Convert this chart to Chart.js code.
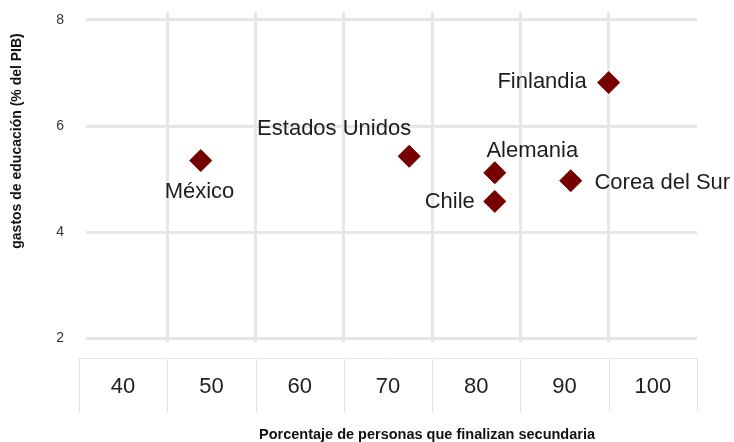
<!DOCTYPE html>
<html><head><meta charset="utf-8">
<script src="https://cdn.jsdelivr.net/npm/chart.js@4.4.1/dist/chart.umd.min.js"></script>
<style>html,body{margin:0;padding:0;background:#fff}</style>
</head><body>
<canvas id="c" width="734" height="442"></canvas>
<script>
const countries = ['Finlandia', 'Estados Unidos', 'México', 'Alemania', 'Chile', 'Corea del Sur'];
const secondaryCompletion = [95.0, 72.4, 48.8, 82.1, 82.1, 90.7];
const educationSpending = [6.82, 5.43, 5.35, 5.12, 4.58, 4.97];
const xTickLabels = [40, 50, 60, 70, 80, 90, 100];
const yTickLabels = [2, 4, 6, 8];
const xTitle = 'Porcentaje de personas que finalizan secundaria';
const yTitle = 'gastos de educación (% del PIB)';

// label placement relative to each point (style only)
const labelPlacement = {
  'Finlandia':      {dx: -22,  dy: 5.6,  align: 'right'},
  'Estados Unidos': {dx: -75,  dy: -21.7, align: 'center'},
  'México':         {dx: -1.3, dy: 37.6, align: 'center'},
  'Alemania':       {dx: 37.5, dy: -16,  align: 'center'},
  'Chile':          {dx: -20,  dy: 6.6,  align: 'right'},
  'Corea del Sur':  {dx: 23.7, dy: 8.6,  align: 'left'}
};

const GRID = '#e6e6ea';
const CELL = '#e4e4e4';
const FONT = '"Liberation Sans", Arial, sans-serif';

const cellsPlugin = {
  id: 'cells',
  beforeDraw(chart) {
    const x = chart.scales.x;
    const c = chart.ctx;
    const half = (xTickLabels[1] - xTickLabels[0]) / 2;
    const edges = xTickLabels.map(v => v - half).concat([xTickLabels[xTickLabels.length - 1] + half]);
    const top = 358.5, bottom = 412;
    c.save();
    c.strokeStyle = CELL;
    c.lineWidth = 1;
    c.beginPath();
    const l = Math.round(x.getPixelForValue(edges[0])) + 0.5;
    const r = Math.round(x.getPixelForValue(edges[edges.length - 1])) + 0.5;
    c.moveTo(l, top); c.lineTo(r, top);
    edges.forEach(e => {
      const px = Math.round(x.getPixelForValue(e)) + 0.5;
      c.moveTo(px, top); c.lineTo(px, bottom);
    });
    c.stroke();
    c.restore();
  }
};

const labelsPlugin = {
  id: 'pointLabels',
  afterDatasetsDraw(chart) {
    const c = chart.ctx;
    const meta = chart.getDatasetMeta(0);
    c.save();
    c.font = '22px ' + FONT;
    c.fillStyle = '#1e1e1e';
    c.textBaseline = 'alphabetic';
    meta.data.forEach((pt, i) => {
      const p = labelPlacement[countries[i]];
      c.textAlign = p.align;
      c.fillText(countries[i], pt.x + p.dx, pt.y + p.dy);
    });
    c.restore();
  }
};

const titlesPlugin = {
  id: 'axisTitles',
  afterDraw(chart) {
    const c = chart.ctx;
    c.save();
    c.fillStyle = '#111';
    c.font = 'bold 14.5px ' + FONT;
    c.textAlign = 'center';
    c.textBaseline = 'middle';
    c.fillText(xTitle, 427, 435);
    c.translate(17, 141);
    c.rotate(-Math.PI / 2);
    c.font = 'bold 14px ' + FONT;
    c.fillText(yTitle, 0, 0);
    c.restore();
  }
};

new Chart(document.getElementById('c'), {
  type: 'scatter',
  data: {
    datasets: [{
      data: secondaryCompletion.map((v, i) => ({x: v, y: educationSpending[i]})),
      pointStyle: 'rectRot',
      pointRadius: 11,
      pointHoverRadius: 11,
      backgroundColor: '#760000',
      borderColor: '#760000',
      borderWidth: 1
    }]
  },
  options: {
    responsive: false,
    animation: false,
    events: [],
    layout: {padding: {top: 12, right: 37, bottom: 0, left: 0}},
    plugins: {legend: {display: false}, tooltip: {enabled: false}},
    scales: {
      x: {
        type: 'linear',
        position: 'bottom',
        min: 35.8,
        max: 105,
        afterBuildTicks: s => { s.ticks = xTickLabels.map(v => ({value: v})); },
        afterFit: s => { s.height = 100; s.paddingLeft = 0; s.paddingRight = 0; },
        border: {display: false},
        grid: {
          offset: true,
          drawTicks: false,
          lineWidth: 3,
          color: ctx => ctx.type === 'tick' ? GRID : 'rgba(0,0,0,0)'
        },
        ticks: {
          padding: 31.5,
          autoSkip: false,
          maxRotation: 0,
          color: '#222',
          font: {family: FONT, size: 22}
        }
      },
      y: {
        type: 'linear',
        min: 1.93,
        max: 8.15,
        afterBuildTicks: s => { s.ticks = yTickLabels.map(v => ({value: v})); },
        afterFit: s => { s.width = 86; s.paddingTop = 0; s.paddingBottom = 0; },
        border: {display: false},
        grid: {drawTicks: false, lineWidth: 3, color: GRID},
        ticks: {
          padding: 22,
          color: '#333',
          font: {family: FONT, size: 14}
        }
      }
    }
  },
  plugins: [cellsPlugin, labelsPlugin, titlesPlugin]
});
</script>
</body></html>
